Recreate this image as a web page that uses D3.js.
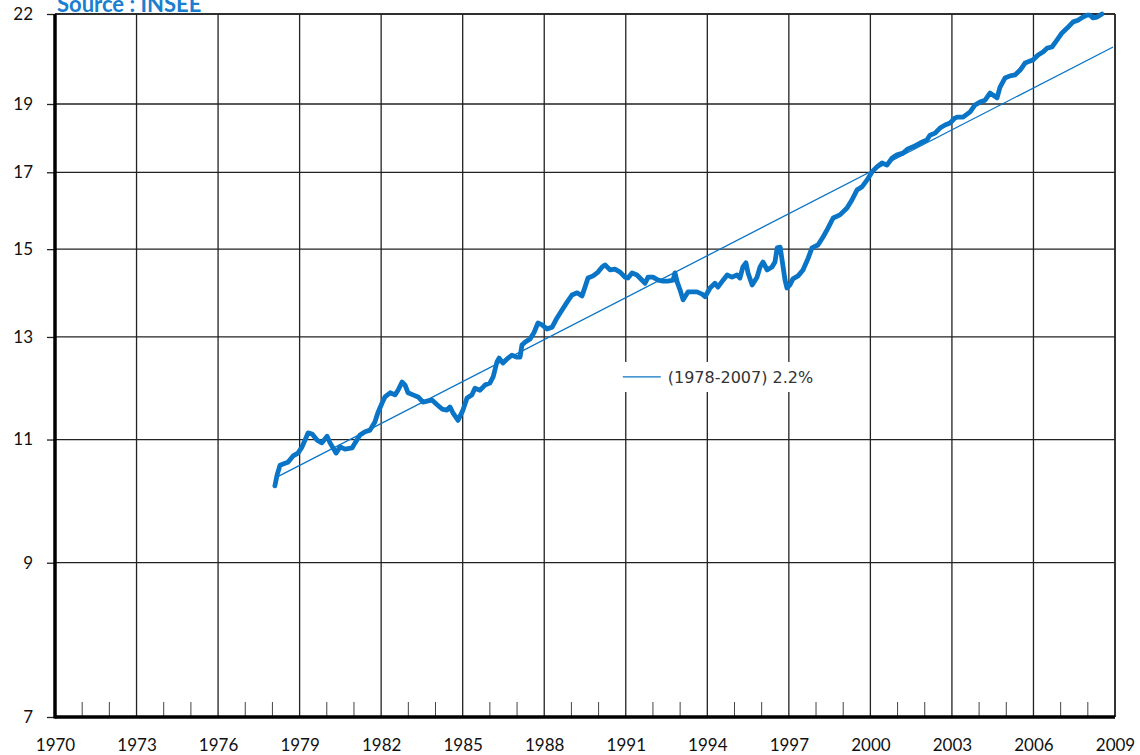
<!DOCTYPE html>
<html>
<head>
<meta charset="utf-8">
<script src="https://cdn.jsdelivr.net/npm/d3@7"></script>
<style>
  body { margin: 0; background: #fff; }
  svg { display: block; }
</style>
</head>
<body>
<div id="chart"></div>
<script>
// monthly-ish readings of the series (year, value)
const years = [
  1978.09, 1978.17, 1978.28, 1978.39, 1978.57, 1978.76, 1978.94, 1979.09, 1979.20, 1979.31,
  1979.46, 1979.64, 1979.82, 1980.01, 1980.12, 1980.34, 1980.49, 1980.67, 1980.93, 1981.04,
  1981.22, 1981.41, 1981.59, 1981.77, 1981.88, 1982.03, 1982.14, 1982.33, 1982.51, 1982.62,
  1982.77, 1982.88, 1982.99, 1983.17, 1983.36, 1983.54, 1983.69, 1983.87, 1984.06, 1984.24,
  1984.42, 1984.53, 1984.64, 1984.83, 1985.01, 1985.16, 1985.34, 1985.45, 1985.64, 1985.82,
  1986.00, 1986.12, 1986.26, 1986.34, 1986.48, 1986.67, 1986.81, 1987.00, 1987.11, 1987.18,
  1987.29, 1987.48, 1987.62, 1987.77, 1987.92, 1988.10, 1988.29, 1988.47, 1988.65, 1988.84,
  1989.02, 1989.21, 1989.39, 1989.50, 1989.61, 1989.80, 1989.98, 1990.13, 1990.24, 1990.42,
  1990.60, 1990.79, 1990.97, 1991.08, 1991.23, 1991.41, 1991.52, 1991.71, 1991.82, 1992.00,
  1992.19, 1992.37, 1992.55, 1992.74, 1992.81, 1992.89, 1993.00, 1993.11, 1993.29, 1993.62,
  1993.81, 1993.92, 1994.10, 1994.28, 1994.39, 1994.58, 1994.73, 1994.91, 1995.09, 1995.20,
  1995.31, 1995.42, 1995.50, 1995.65, 1995.83, 1995.94, 1996.05, 1996.20, 1996.38, 1996.49,
  1996.57, 1996.68, 1996.75, 1996.86, 1996.93, 1997.04, 1997.15, 1997.34, 1997.52, 1997.71,
  1997.85, 1998.07, 1998.26, 1998.44, 1998.63, 1998.88, 1999.14, 1999.32, 1999.51, 1999.69,
  1999.88, 2000.06, 2000.24, 2000.43, 2000.61, 2000.80, 2000.98, 2001.20, 2001.38, 2001.57,
  2001.83, 2002.08, 2002.19, 2002.38, 2002.56, 2002.75, 2002.93, 2003.11, 2003.22, 2003.41,
  2003.67, 2003.85, 2004.03, 2004.22, 2004.40, 2004.51, 2004.66, 2004.77, 2004.95, 2005.14,
  2005.32, 2005.51, 2005.69, 2005.80, 2005.98, 2006.17, 2006.35, 2006.50, 2006.68, 2006.87,
  2007.05, 2007.24, 2007.46, 2007.64, 2007.82, 2007.97, 2008.08, 2008.19, 2008.34, 2008.52
];
const values = [
  10.20, 10.38, 10.55, 10.57, 10.60, 10.71, 10.76, 10.87, 10.99, 11.12,
  11.10, 10.99, 10.94, 11.06, 10.94, 10.76, 10.87, 10.83, 10.85, 10.94,
  11.08, 11.14, 11.17, 11.32, 11.49, 11.67, 11.79, 11.87, 11.83, 11.92,
  12.08, 12.02, 11.87, 11.83, 11.79, 11.69, 11.71, 11.73, 11.64, 11.56,
  11.54, 11.60, 11.49, 11.35, 11.54, 11.77, 11.83, 11.96, 11.92, 12.02,
  12.06, 12.18, 12.48, 12.56, 12.46, 12.56, 12.62, 12.58, 12.58, 12.83,
  12.89, 12.96, 13.09, 13.30, 13.26, 13.17, 13.21, 13.41, 13.58, 13.76,
  13.92, 13.97, 13.90, 14.10, 14.31, 14.36, 14.45, 14.57, 14.62, 14.50,
  14.52, 14.45, 14.33, 14.31, 14.43, 14.38, 14.31, 14.19, 14.33, 14.33,
  14.26, 14.24, 14.24, 14.26, 14.43, 14.22, 14.03, 13.81, 13.99, 13.99,
  13.94, 13.88, 14.08, 14.19, 14.10, 14.26, 14.38, 14.33, 14.38, 14.31,
  14.57, 14.67, 14.43, 14.15, 14.33, 14.57, 14.69, 14.50, 14.57, 14.69,
  15.03, 15.05, 14.74, 14.26, 14.08, 14.15, 14.29, 14.36, 14.50, 14.78,
  15.03, 15.10, 15.30, 15.52, 15.78, 15.86, 16.04, 16.25, 16.52, 16.60,
  16.79, 17.01, 17.15, 17.26, 17.20, 17.40, 17.49, 17.54, 17.66, 17.72,
  17.83, 17.92, 18.06, 18.12, 18.27, 18.36, 18.42, 18.57, 18.60, 18.60,
  18.76, 18.97, 19.06, 19.12, 19.34, 19.28, 19.19, 19.53, 19.82, 19.89,
  19.92, 20.08, 20.31, 20.35, 20.41, 20.58, 20.68, 20.81, 20.85, 21.09,
  21.33, 21.50, 21.72, 21.78, 21.89, 21.96, 21.96, 21.86, 21.89, 22.00
];
// trend line endpoints
const trendYears = [1978.09, 2008.93];
const trendValues = [10.33, 20.85];
const trendLabel = "(1978-2007) 2.2%";

const yTicks = [7, 9, 11, 13, 15, 17, 19, 22];
const xMajor = d3.range(1970, 2010, 3);
const xMinor = d3.range(1970, 2010, 1);

const blue = "#0a74c6";

var margin = { top: 14, right: 25, bottom: 38, left: 55 },
  width = 1140 - margin.left - margin.right,
  height = 755 - margin.top - margin.bottom;

const svg = d3.select("#chart").append("svg")
  .attr("width", 1140)
  .attr("height", 755);

svg.append("text")
  .text("Source : INSEE")
  .attr("x", 57)
  .attr("y", 12)
  .attr("font-family", "Lato, 'Open Sans', sans-serif")
  .attr("font-weight", "bold")
  .attr("font-size", 22)
  .attr("fill", "#1a7fd0");

const g = svg.append("g")
  .attr("transform", `translate(${margin.left},${margin.top})`);

var x = d3.scaleLinear().domain([1970, 2009]).range([0, width]);
var y = d3.scaleLog().domain([7, 22]).range([height, 0]);

// grid
g.selectAll(".hgrid").data(yTicks.filter((d) => d > 7))
  .enter().append("line")
  .attr("class", "hgrid")
  .attr("x1", 0).attr("x2", width)
  .attr("y1", (d) => y(d)).attr("y2", (d) => y(d))
  .attr("stroke", "#222").attr("stroke-width", 1.3);

g.selectAll(".vgrid").data(xMajor.filter((d) => d > 1970))
  .enter().append("line")
  .attr("class", "vgrid")
  .attr("x1", (d) => x(d)).attr("x2", (d) => x(d))
  .attr("y1", 0).attr("y2", height)
  .attr("stroke", "#222").attr("stroke-width", 1.3);

// minor ticks at the bottom
g.selectAll(".minor").data(xMinor.filter((d) => (d - 1970) % 3 !== 0))
  .enter().append("line")
  .attr("class", "minor")
  .attr("x1", (d) => x(d)).attr("x2", (d) => x(d))
  .attr("y1", height).attr("y2", height - 15)
  .attr("stroke", "#444").attr("stroke-width", 1);

// y axis
var yAxis = g.append("g")
  .call(d3.axisLeft(y).tickValues(yTicks).tickFormat(d3.format("d")).tickSize(8).tickPadding(14));
yAxis.select(".domain").remove();
yAxis.selectAll("line").attr("stroke", "#222").attr("stroke-width", 1.3);
yAxis.selectAll("text")
  .attr("font-family", "Lato, sans-serif")
  .attr("font-size", 17)
  .attr("fill", "#111");

// x axis labels
var xAxis = g.append("g")
  .attr("transform", `translate(0,${height})`)
  .call(d3.axisBottom(x).tickValues(xMajor).tickFormat(d3.format("d")).tickSize(0).tickPadding(22));
xAxis.select(".domain").remove();
xAxis.selectAll("text")
  .attr("font-family", "Lato, sans-serif")
  .attr("font-size", 17)
  .attr("fill", "#111");

// frame
g.append("line").attr("x1", 0).attr("x2", width).attr("y1", 0).attr("y2", 0)
  .attr("stroke", "#222").attr("stroke-width", 1.5);
g.append("line").attr("x1", width).attr("x2", width).attr("y1", 0).attr("y2", height)
  .attr("stroke", "#222").attr("stroke-width", 1.5);
g.append("line").attr("x1", 0).attr("x2", 0).attr("y1", 0).attr("y2", height + 1.5)
  .attr("stroke", "#000").attr("stroke-width", 3.5);
g.append("line").attr("x1", 0).attr("x2", width).attr("y1", height).attr("y2", height)
  .attr("stroke", "#000").attr("stroke-width", 3.5);

// legend box (covers grid)
const legend = g.append("g")
  .attr("transform", `translate(${x(1991) - 12},${y(12.18)})`);
legend.append("rect")
  .attr("x", 0).attr("y", -15)
  .attr("width", 215).attr("height", 30)
  .attr("fill", "#fff");
legend.append("line")
  .attr("x1", 9).attr("x2", 47).attr("y1", 0).attr("y2", 0)
  .attr("stroke", blue).attr("stroke-width", 1.3);
legend.append("text")
  .text(trendLabel)
  .attr("x", 54).attr("y", 0).attr("dy", "0.35em")
  .attr("font-family", "'DejaVu Sans', 'Noto Sans', sans-serif")
  .attr("font-size", 16)
  .attr("fill", "#333");

// trend line
var line = d3.line().x((d) => x(d[0])).y((d) => y(d[1]));
g.append("path")
  .datum(trendYears.map((d, i) => [d, trendValues[i]]))
  .attr("d", line)
  .attr("fill", "none")
  .attr("stroke", blue)
  .attr("stroke-width", 1.3);

// series
g.append("path")
  .datum(years.map((d, i) => [d, values[i]]))
  .attr("d", line)
  .attr("fill", "none")
  .attr("stroke", blue)
  .attr("stroke-width", 4.8)
  .attr("stroke-linejoin", "round")
  .attr("stroke-linecap", "round");
</script>
</body>
</html>
